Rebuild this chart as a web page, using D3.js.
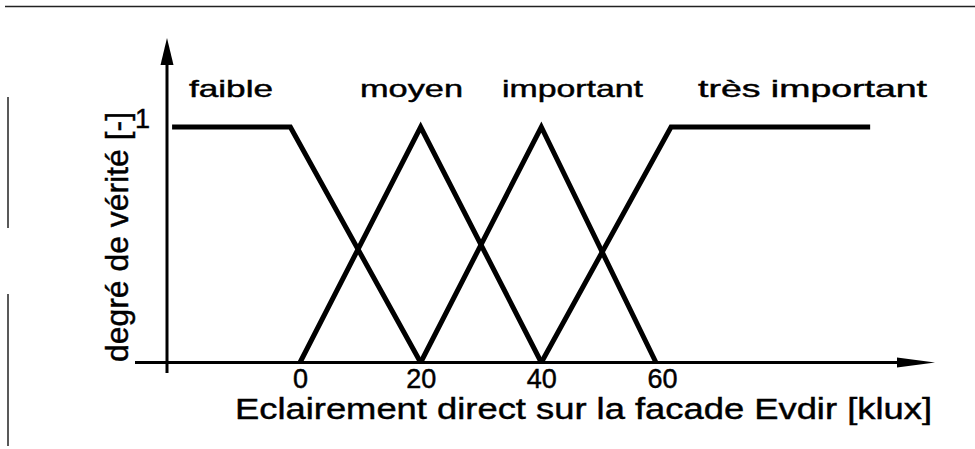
<!DOCTYPE html>
<html>
<head>
<meta charset="utf-8">
<script src="https://cdn.jsdelivr.net/npm/d3@7"></script>
<style>
  body { margin: 0; background: #fff; }
  svg { display: block; font-family: "Liberation Sans", Arial, sans-serif; }
  svg text { stroke: #000; stroke-width: 0.45px; }
</style>
</head>
<body>
<div id="chart"></div>
<script>
// tick labels
const xTicks = [0, 20, 40, 60];
const yTicks = [1];

// fuzzy sets, [x value, degree]
const setNames = ["faible", "moyen", "important", "très important"];
const faible = [[-21.2, 1], [-1.6, 1], [20, 0]];
const moyen = [[0, 0], [20, 1], [40, 0]];
const important = [[20, 0], [40, 1], [59, 0]];
const tresImportant = [[40, 0], [61.5, 1], [94.5, 1]];

const xTitle = "Eclairement direct sur la facade Evdir [klux]";
const yTitle = "degré de vérité [-]";

const width = 975, height = 449;

const svg = d3.select("#chart")
  .append("svg")
  .attr("width", width)
  .attr("height", height);

const x = d3.scaleLinear().domain([0, 60]).range([300, 662]);
const y = d3.scaleLinear().domain([0, 1]).range([362.5, 127]);

// scan frame: top rule and broken left rule
svg.append("line")
  .attr("x1", 5).attr("x2", 975).attr("y1", 6.5).attr("y2", 6.5)
  .attr("stroke", "#222").attr("stroke-width", 1.5);
svg.append("line")
  .attr("x1", 8).attr("x2", 8).attr("y1", 97).attr("y2", 228)
  .attr("stroke", "#222").attr("stroke-width", 1.5);
svg.append("line")
  .attr("x1", 8).attr("x2", 8).attr("y1", 294).attr("y2", 446)
  .attr("stroke", "#222").attr("stroke-width", 1.5);

// axes with arrow heads
const axisX = 167, axisY = y(0);
svg.append("line")
  .attr("x1", 135).attr("x2", 900).attr("y1", axisY).attr("y2", axisY)
  .attr("stroke", "#000").attr("stroke-width", 3);
svg.append("path")
  .attr("d", `M897,${axisY - 5} L935,${axisY} L897,${axisY + 5} Z`)
  .attr("fill", "#000");
svg.append("line")
  .attr("x1", axisX).attr("x2", axisX).attr("y1", 60).attr("y2", 373)
  .attr("stroke", "#000").attr("stroke-width", 3);
svg.append("path")
  .attr("d", `M${axisX - 6.5},65 L${axisX},38 L${axisX + 6.5},65 Z`)
  .attr("fill", "#000");

// tick labels
const gx = svg.append("g")
  .attr("transform", `translate(0,${axisY})`)
  .call(d3.axisBottom(x).tickValues(xTicks).tickSize(0).tickPadding(6));
gx.select(".domain").remove();
gx.selectAll("text")
  .attr("fill", "#000")
  .style("font-size", "27px")
  .style("font-family", "'Liberation Sans', Arial, sans-serif");

const gy = svg.append("g")
  .attr("transform", `translate(${axisX},0)`)
  .call(
    d3.axisLeft(y).tickValues(yTicks).tickFormat(d3.format("d"))
      .tickSize(0).tickPadding(17)
  );
gy.select(".domain").remove();
gy.selectAll("text")
  .attr("dy", "0")
  .attr("fill", "#000")
  .style("font-size", "27px")
  .style("font-family", "'Liberation Sans', Arial, sans-serif");

// membership functions
const line = d3.line().x((d) => x(d[0])).y((d) => y(d[1]));
[faible, moyen, important, tresImportant].forEach((s) => {
  svg.append("path")
    .datum(s)
    .attr("d", line)
    .attr("fill", "none")
    .attr("stroke", "#000")
    .attr("stroke-width", 5)
    .attr("stroke-linejoin", "miter");
});

// set names above the curves
const nameX = [189, 360, 502, 698];
const nameW = [84, 103, 141, 229];
svg.selectAll(".set-name")
  .data(setNames)
  .enter()
  .append("text")
  .attr("class", "set-name")
  .attr("x", (d, i) => nameX[i])
  .attr("y", 97)
  .attr("textLength", (d, i) => nameW[i])
  .attr("lengthAdjust", "spacingAndGlyphs")
  .style("font-size", "24px")
  .text((d) => d);

// axis titles
svg.append("text")
  .attr("x", 235)
  .attr("y", 419)
  .attr("textLength", 697)
  .attr("lengthAdjust", "spacingAndGlyphs")
  .style("font-size", "30px")
  .text(xTitle);

svg.append("text")
  .attr("transform", "translate(128,362) rotate(-90)")
  .attr("textLength", 250)
  .attr("lengthAdjust", "spacingAndGlyphs")
  .style("font-size", "32px")
  .text(yTitle);
</script>
</body>
</html>
